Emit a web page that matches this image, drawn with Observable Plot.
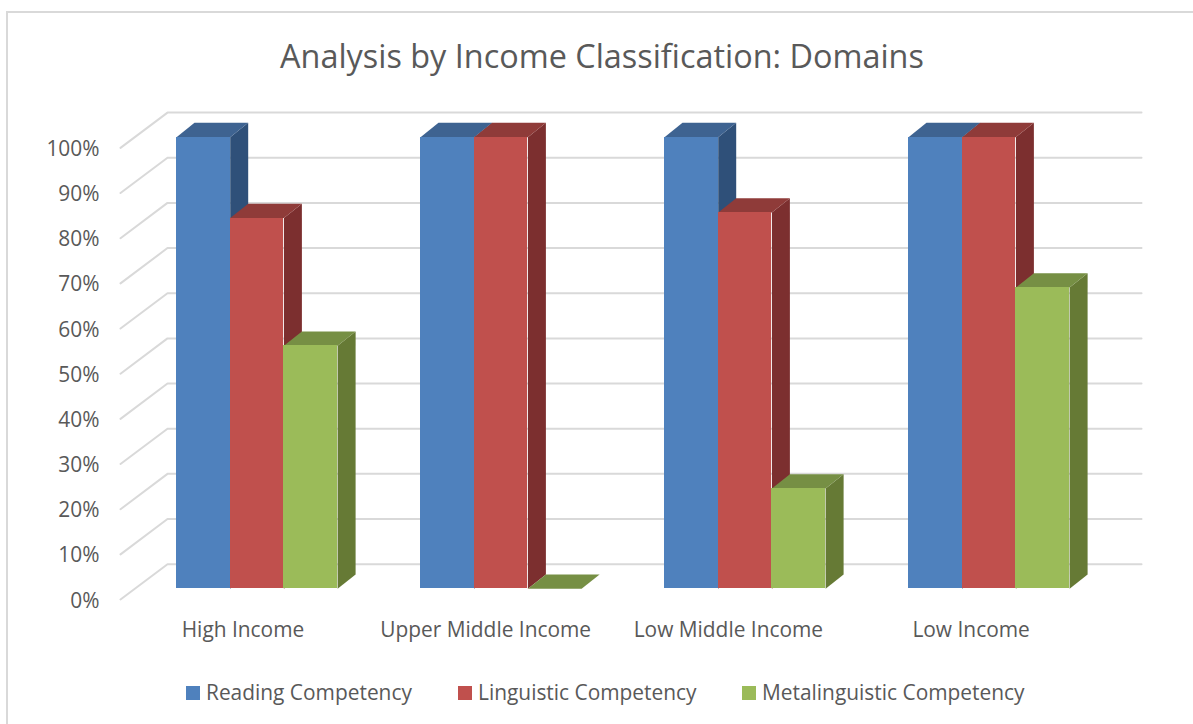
<!DOCTYPE html>
<html>
<head>
<meta charset="utf-8">
<script src="https://cdn.jsdelivr.net/npm/d3@7"></script>
<script src="https://cdn.jsdelivr.net/npm/@observablehq/plot@0.6"></script>
<style>
html,body{margin:0;padding:0;background:#fff;overflow:hidden}
#wrap{position:relative;width:1193px;height:724px;overflow:hidden;font-family:"Open Sans",sans-serif;color:#595959}
#frame{position:absolute;left:6px;top:11px;width:1300px;height:800px;border:2px solid #d9d9d9;box-sizing:border-box}
#title{position:absolute;left:0;width:1204px;top:33px;text-align:center;font-size:32.4px;line-height:44px}
#chart{position:absolute;left:0;top:90px}
.lg{position:absolute;top:678px;font-size:20.9px;line-height:28px;white-space:nowrap}
.sw{position:absolute;top:686px;width:14px;height:14px}
</style>
</head>
<body>
<div id="wrap">
  <div id="frame"></div>
  <div id="title">Analysis by Income Classification: Domains</div>
  <div id="chart"></div>
  <div id="legend"></div>
</div>
<script>
const categories = ["High Income", "Upper Middle Income", "Low Middle Income", "Low Income"];
const readingCompetency = [100, 100, 100, 100];
const linguisticCompetency = [82.1, 100, 83.3, 100];
const metalinguisticCompetency = [53.8, 0, 22.2, 66.7];
const yTicks = [0, 10, 20, 30, 40, 50, 60, 70, 80, 90, 100];

const seriesList = [
  {name: "Reading Competency", values: readingCompetency, front: "#4f81bd", top: "#3e6391", side: "#2f5079", slot: 0},
  {name: "Linguistic Competency", values: linguisticCompetency, front: "#c0504d", top: "#8f3b39", side: "#7c2f2f", slot: 1},
  {name: "Metalinguistic Competency", values: metalinguisticCompetency, front: "#9bbb59", top: "#768f44", side: "#667a35", slot: 2}
];

// Projection constants of the pseudo-3D look, in data units
const barW = 53.7 / 244, depthX = 18 / 244, depthY = 14.4 / 4.516;
const wallDy = 5.45, frontDy = -2.37;
const axisFrontX = -0.2295, wallX0 = -0.0369, wallX1 = 3.955;
const labelStep = 242.7 / 244, labelOffset = 0.2725;

const marks = [];
// back wall gridlines and the left-hand diagonals
marks.push(Plot.line(yTicks.flatMap(t => [
  {t, x: axisFrontX, y: t + frontDy},
  {t, x: wallX0, y: t + wallDy},
  {t, x: wallX1, y: t + wallDy}
]), {x: "x", y: "y", z: "t", stroke: "#d9d9d9", strokeWidth: 2}));

for (const s of seriesList) {
  const rows = s.values.map((v, i) => ({i, v, x1: i + s.slot * barW, x2: i + (s.slot + 1) * barW}));
  const faces = rows.flatMap(r => [
    ...[[r.x2, 0], [r.x2 + depthX, depthY], [r.x2 + depthX, r.v + depthY], [r.x2, r.v]]
      .map(([x, y]) => ({id: "s" + r.i, x, y, c: s.side})),
    ...[[r.x1, r.v], [r.x1 + depthX, r.v + depthY], [r.x2 + depthX, r.v + depthY], [r.x2, r.v]]
      .map(([x, y]) => ({id: "t" + r.i, x, y, c: s.top}))
  ]);
  marks.push(Plot.line(faces, {x: "x", y: "y", z: "id", fill: {value: "c", scale: null}, stroke: "none"}));
  marks.push(Plot.rect(rows, {x1: "x1", x2: "x2", y1: 0, y2: "v", fill: s.front, shapeRendering: "crispEdges"}));
}

marks.push(Plot.axisY({ticks: yTicks, tickFormat: d => d + "%", tickSize: 0, tickPadding: 0, dy: 12, label: null, anchor: "left"}));
const labelTicks = categories.map((d, i) => i * labelStep + labelOffset);
marks.push(Plot.axisX({
  ticks: labelTicks,
  tickFormat: v => categories[labelTicks.indexOf(v)],
  tickSize: 0, tickPadding: 7, label: null, anchor: "bottom"
}));

const plot = Plot.plot({
  width: 1193, height: 570,
  marginLeft: 99, marginRight: 0, marginTop: 0, marginBottom: 45,
  x: {type: "linear", domain: [0, 4], range: [176, 1152]},
  y: {type: "linear", domain: [0, 100], range: [498.3, 46.7]},
  style: {background: "transparent", fontFamily: '"Open Sans",sans-serif', fontSize: "20.9px", color: "#595959", overflow: "visible"},
  marks
});
document.getElementById("chart").appendChild(plot);

const lg = document.getElementById("legend");
const swX = [186, 458, 742], txtX = [206, 478, 762];
seriesList.forEach((s, i) => {
  const a = document.createElement("div");
  a.className = "sw"; a.style.left = swX[i] + "px"; a.style.background = s.front;
  const b = document.createElement("div");
  b.className = "lg"; b.style.left = txtX[i] + "px"; b.textContent = s.name;
  lg.append(a, b);
});
</script>
</body>
</html>
